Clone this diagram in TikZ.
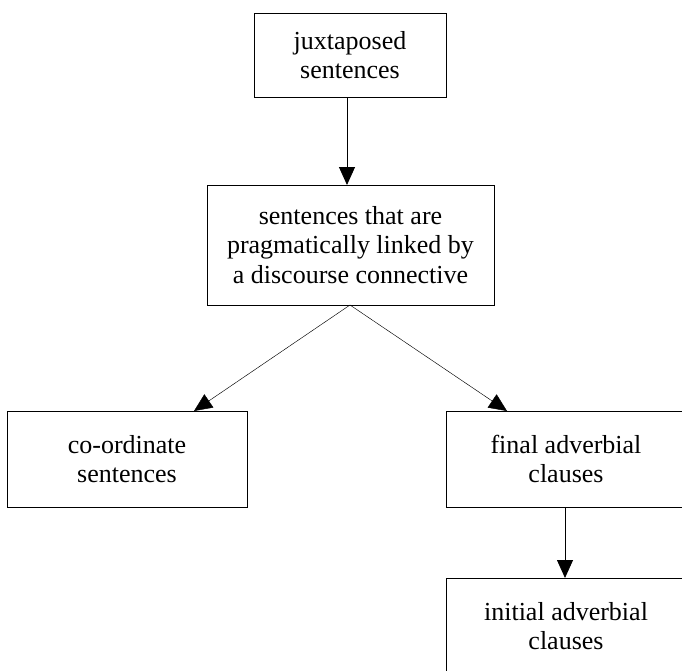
\documentclass[tikz,border=0pt]{standalone}
\usepackage{fontspec}
\setmainfont{Liberation Serif}
\usetikzlibrary{arrows.meta}
\begin{document}
\begin{tikzpicture}[x=1pt,y=-1pt,
  box/.style={draw,line width=1pt,inner sep=0pt,outer sep=0pt,align=center,
    font=\fontsize{26}{29.5}\selectfont},
  arr/.style={line width=0.9pt,-{Triangle[length=18pt,width=16pt]}},
  thinarr/.style={line width=0.45pt,-{Triangle[length=18pt,width=16pt]}}]
  \useasboundingbox (0,0) rectangle (682,670);
  \clip (0,0) rectangle (682,670);
  % boxes
  \node[box,minimum width=192pt,minimum height=84pt] (top) at (350,55)
    {juxtaposed\\sentences};
  \node[box,minimum width=287pt,minimum height=120pt] (mid) at (350.5,245)
    {sentences that are\\pragmatically linked by\\a discourse connective};
  \node[box,minimum width=240pt,minimum height=96pt] (coord) at (127,459)
    {co-ordinate\\sentences};
  \node[box,minimum width=240pt,minimum height=96pt] (final) at (566,459)
    {final adverbial\\clauses};
  \node[box,minimum width=240pt,minimum height=96pt] (init) at (566,626)
    {initial adverbial\\clauses};
  % connectors
  \draw[arr] ([xshift=-3pt]top.south) -- ([xshift=-3.5pt]mid.north);
  \draw[thinarr] ([xshift=-0.5pt]mid.south) -- ([xshift=67pt]coord.north);
  \draw[thinarr] ([xshift=-0.5pt]mid.south) -- ([xshift=-59pt]final.north);
  \draw[arr] ([xshift=-1pt]final.south) -- ([xshift=-1pt]init.north);
\end{tikzpicture}
\end{document}
